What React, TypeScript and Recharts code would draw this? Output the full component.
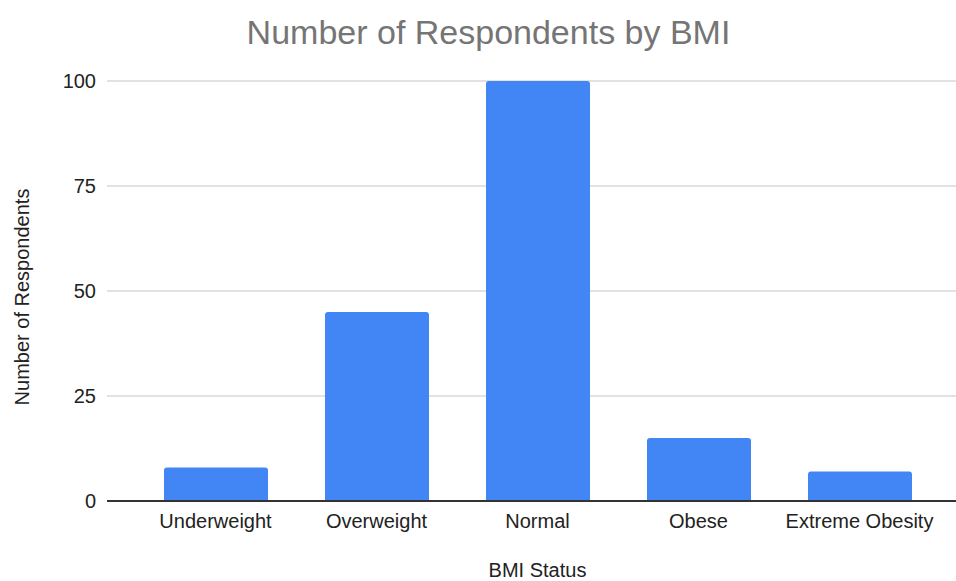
import React from 'react';
import { BarChart, Bar, XAxis, YAxis, CartesianGrid, Label } from 'recharts';

const categories = ['Underweight', 'Overweight', 'Normal', 'Obese', 'Extreme Obesity'];
const respondents = [8, 45, 100, 15, 7];
const yTicks = [0, 25, 50, 75, 100];

const data = categories.map((status, i) => ({ status, count: respondents[i] }));

const FONT = '"Liberation Sans", Arial, Helvetica, sans-serif';

const App: React.FC = () => {
  return (
    <div style={{ position: 'absolute', left: 0, top: 0, width: 956, height: 581, background: '#fff', fontFamily: FONT }}>
      {/* chart title */}
      <div
        style={{
          position: 'absolute',
          left: 0,
          top: 15,
          width: 977,
          textAlign: 'center',
          fontSize: 34,
          lineHeight: '34px',
          color: '#757575',
        }}
      >
        Number of Respondents by BMI
      </div>

      <BarChart
        width={956}
        height={581}
        data={data}
        margin={{ top: 81, right: 0, bottom: 0, left: 0 }}
        style={{ fontFamily: FONT }}
      >
        <CartesianGrid vertical={false} stroke="#d9d9d9" strokeWidth={1.3} />
        <XAxis
          dataKey="status"
          height={80}
          padding={{ left: 28, right: 16 }}
          tickLine={false}
          tickSize={6}
          tickMargin={7}
          axisLine={{ stroke: '#333', strokeWidth: 2 }}
          tick={{ fill: '#222', fontSize: 20 }}
          interval={0}
        >
          <Label value="BMI Status" position="insideBottom" offset={4} dx={6} fill="#222" fontSize={20} />
        </XAxis>
        <YAxis
          width={107}
          domain={[0, 100]}
          ticks={yTicks}
          axisLine={false}
          tickLine={false}
          tickSize={6}
          tickMargin={5}
          tick={{ fill: '#222', fontSize: 20 }}
        >
          <Label
            value="Number of Respondents"
            angle={-90}
            position="insideLeft"
            offset={22}
            dy={6}
            fill="#222"
            fontSize={20}
            style={{ textAnchor: 'middle' }}
          />
        </YAxis>
        <Bar dataKey="count" fill="#4285f4" barSize={104} radius={[3, 3, 0, 0]} isAnimationActive={false} />
      </BarChart>
    </div>
  );
};

export default App;
